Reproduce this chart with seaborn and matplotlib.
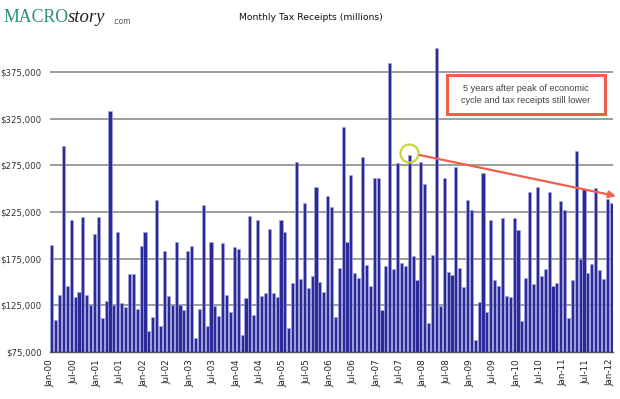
import matplotlib
matplotlib.use("Agg")
import matplotlib.pyplot as plt
import seaborn as sns
import numpy as np
import pandas as pd

# Monthly tax receipts (millions of $), Jan-2000 .. Jan-2012
receipts_2000 = [190, 109, 136, 296, 146, 216, 134, 139, 220, 136, 125, 201]
receipts_2001 = [220, 111, 130, 333, 125, 203, 128, 123, 159, 158, 121, 188]
receipts_2002 = [204, 98, 112, 238, 103, 183, 135, 125, 193, 125, 120, 183]
receipts_2003 = [188, 90, 121, 232, 103, 193, 124, 114, 192, 136, 118, 187]
receipts_2004 = [185, 93, 133, 221, 115, 216, 135, 138, 207, 138, 134, 216]
receipts_2005 = [203, 101, 149, 278, 153, 235, 143, 156, 252, 150, 139, 242]
receipts_2006 = [230, 113, 165, 316, 193, 265, 160, 154, 284, 168, 146, 261]
receipts_2007 = [261, 120, 167, 384, 164, 277, 170, 167, 286, 178, 152, 278]
receipts_2008 = [255, 106, 179, 400, 124, 261, 161, 157, 273, 165, 145, 238]
receipts_2009 = [227, 88, 129, 267, 118, 216, 152, 146, 219, 135, 134, 219]
receipts_2010 = [206, 108, 154, 246, 148, 252, 156, 164, 246, 146, 149, 237]
receipts_2011 = [227, 111, 152, 290, 175, 250, 160, 169, 251, 163, 153, 239]
receipts_2012 = [235]

values = (receipts_2000 + receipts_2001 + receipts_2002 + receipts_2003 +
          receipts_2004 + receipts_2005 + receipts_2006 + receipts_2007 +
          receipts_2008 + receipts_2009 + receipts_2010 + receipts_2011 +
          receipts_2012)
values = [v * 1000 for v in values]
months = list(range(len(values)))

tick_labels = ["Jan-00", "Jul-00", "Jan-01", "Jul-01", "Jan-02", "Jul-02",
               "Jan-03", "Jul-03", "Jan-04", "Jul-04", "Jan-05", "Jul-05",
               "Jan-06", "Jul-06", "Jan-07", "Jul-07", "Jan-08", "Jul-08",
               "Jan-09", "Jul-09", "Jan-10", "Jul-10", "Jan-11", "Jul-11",
               "Jan-12"]
y_ticks = [75000, 125000, 175000, 225000, 275000, 325000, 375000]

df = pd.DataFrame({"month": months, "receipts": values})

sns.set_style("white")
plt.rcParams['font.family'] = ['DejaVu Sans']

W, H = 620, 399
fig = plt.figure(figsize=(W / 100, H / 100), dpi=100)
ax = fig.add_axes([50 / W, (H - 352) / H, 563 / W, (352 - 43.8) / H])

sns.barplot(data=df, x="month", y="receipts", color="#2a2a98", saturation=1,
            width=0.8, ax=ax, edgecolor="#a8a8e4", linewidth=0.4, zorder=3)

ax.set_xlim(-0.45, len(values) - 0.55)
ax.set_ylim(75000, 405000)

ax.set_xticks([i * 6 - 0.4 for i in range(len(tick_labels))])
ax.set_xticklabels(tick_labels, rotation=90, fontsize=6.3, color="#222222")
ax.set_yticks(y_ticks)
ax.set_yticklabels(["${:,.0f}".format(v) for v in y_ticks], fontsize=6.2,
                   color="#333333")
ax.tick_params(axis="x", length=3, width=0.8, color="#666666", pad=2)
ax.tick_params(axis="y", length=0, pad=6)
ax.yaxis.grid(True, color="#8c8c8c", linewidth=1.2, zorder=0)
ax.set_axisbelow(True)
ax.set_xlabel("")
ax.set_ylabel("")
for s in ["top", "right", "left"]:
    ax.spines[s].set_visible(False)
ax.spines["bottom"].set_color("#555555")
ax.spines["bottom"].set_linewidth(1.0)

# Title
fig.text(311 / W, 1 - 18 / H, "Monthly Tax Receipts (millions)", ha="center",
         va="center", fontsize=6.7, color="#111111")

# Logo
fig.text(3 / W, 1 - 18 / H, "MACRO", ha="left", va="center", fontsize=12.8,
         color="#2a8c7c", family="Liberation Serif")
fig.text(68 / W, 1 - 18 / H, "story", ha="left", va="center", fontsize=13.5,
         color="#222222", family="Liberation Serif", style="italic")
fig.text(112 / W, 1 - 21 / H, ".com", ha="left", va="center", fontsize=5.5,
         color="#555555")

# Annotation box
from matplotlib.patches import Rectangle
rect = Rectangle((447 / W, 1 - 114 / H), (605 - 447) / W, 39 / H,
                 transform=fig.transFigure, facecolor="white",
                 edgecolor="#f0604c", linewidth=2.2, zorder=10)
fig.patches.append(rect)
fig.text(526 / W, 1 - 94.5 / H,
         "5 years after peak of economic\ncycle and tax receipts still lower",
         ha="center", va="center", fontsize=6.6, color="#444444",
         family="Liberation Sans", linespacing=1.45, zorder=11)

# Circle around peak month and trend arrow
ax.plot([91.9], [288400], marker="o", markersize=13, markerfacecolor="none",
        markeredgecolor="#c8d43c", markeredgewidth=1.6, zorder=6,
        clip_on=False)
ax.annotate("", xy=(145.2, 242000), xytext=(94.7, 285900),
            xycoords="data", textcoords="data", annotation_clip=False,
            arrowprops=dict(arrowstyle="-|>", color="#f0604c", lw=1.6,
                            mutation_scale=10, shrinkA=0, shrinkB=0),
            zorder=7)

fig.savefig("out.png", dpi=100)
